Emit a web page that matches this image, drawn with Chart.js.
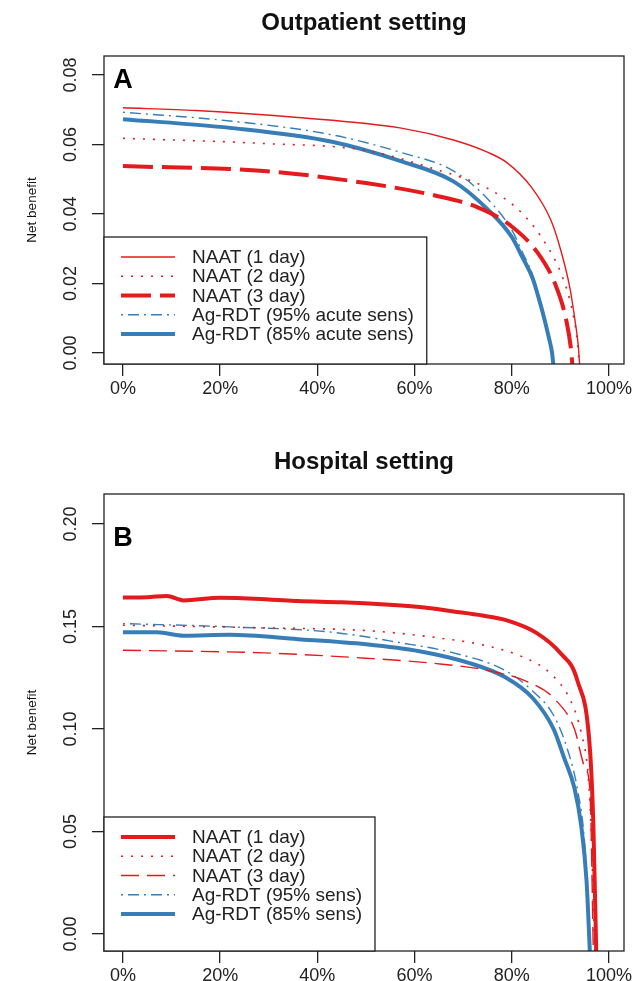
<!DOCTYPE html>
<html>
<head>
<meta charset="utf-8">
<script src="https://cdn.jsdelivr.net/npm/chart.js@4.4.1/dist/chart.umd.min.js"></script>
<style>
  html, body { margin: 0; padding: 0; background: #fff; overflow: hidden; }
  canvas { position: absolute; left: 0; }
  #chartA { top: 0; }
  #chartB { top: 440px; }
</style>
</head>
<body>
<canvas id="chartA" width="636" height="440"></canvas>
<canvas id="chartB" width="636" height="541"></canvas>
<script>
// values: [x (share), net benefit]
var naat1A = [[0,0.0706],[0.15,0.0698],[0.36,0.0678],[0.57,0.0648],[0.68,0.0613],[0.75,0.0578],[0.79,0.0548],[0.84,0.0478],[0.88,0.0384],[0.90,0.0300],[0.92,0.0185],[0.93,0.0095],[0.937,0.0020],[0.940,-0.004]];
var naat2A = [[0,0.0618],[0.29,0.0603],[0.50,0.0583],[0.64,0.0530],[0.75,0.0474],[0.82,0.0404],[0.87,0.0314],[0.905,0.0216],[0.927,0.0106],[0.936,0.0020],[0.939,-0.004]];
var naat3A = [[0,0.0538],[0.29,0.0524],[0.50,0.0489],[0.64,0.0454],[0.73,0.0419],[0.80,0.0364],[0.855,0.0285],[0.89,0.0196],[0.912,0.0095],[0.922,0.0010],[0.925,-0.004]];
var ag95A  = [[0,0.0693],[0.22,0.0668],[0.43,0.0628],[0.57,0.0578],[0.68,0.0524],[0.75,0.0444],[0.80,0.0354],[0.822,0.0290],[0.843,0.0224],[0.854,0.0170],[0.864,0.0118],[0.876,0.0048],[0.882,0.0005],[0.885,-0.004]];
var ag85A  = [[0,0.0673],[0.22,0.0648],[0.43,0.0608],[0.57,0.0553],[0.68,0.0494],[0.75,0.0414],[0.80,0.0334],[0.822,0.0275],[0.843,0.0215],[0.854,0.0165],[0.864,0.0115],[0.876,0.0046],[0.883,0.0000],[0.886,-0.004]];

var naat1B = [[0,0.1641],[0.05,0.1643],[0.09,0.1649],[0.125,0.1627],[0.2,0.1640],[0.3,0.1632],[0.36,0.1624],[0.45,0.1618],[0.54,0.1607],[0.62,0.1592],[0.68,0.1573],[0.74,0.1553],[0.79,0.1530],[0.85,0.1470],[0.90,0.1370],[0.935,0.1236],[0.961,0.0898],[0.968,0.0527],[0.974,-0.01]];
var naat2B = [[0,0.1506],[0.29,0.1493],[0.50,0.1480],[0.64,0.1447],[0.75,0.1405],[0.82,0.1354],[0.88,0.1270],[0.922,0.1134],[0.943,0.0982],[0.957,0.0780],[0.963,0.0527],[0.971,-0.01]];
var naat3B = [[0,0.1384],[0.29,0.1371],[0.50,0.1345],[0.64,0.1320],[0.75,0.1286],[0.836,0.1227],[0.886,0.1151],[0.929,0.1000],[0.950,0.0815],[0.961,0.0696],[0.968,-0.01]];
var ag95B  = [[0,0.1514],[0.22,0.1498],[0.43,0.1472],[0.57,0.1421],[0.68,0.1371],[0.786,0.1286],[0.843,0.1185],[0.886,0.1067],[0.915,0.0898],[0.936,0.0696],[0.950,0.0442],[0.962,-0.01]];
var ag85B  = [[0,0.1472],[0.07,0.1472],[0.125,0.1455],[0.22,0.1459],[0.36,0.1438],[0.50,0.1413],[0.61,0.1379],[0.715,0.1320],[0.786,0.1253],[0.843,0.1151],[0.886,0.1000],[0.907,0.0864],[0.929,0.0712],[0.943,0.0527],[0.954,0.0257],[0.961,-0.01]];

var labelsA = ['NAAT (1 day)', 'NAAT (2 day)', 'NAAT (3 day)', 'Ag-RDT (95% acute sens)', 'Ag-RDT (85% acute sens)'];
var labelsB = ['NAAT (1 day)', 'NAAT (2 day)', 'NAAT (3 day)', 'Ag-RDT (95% sens)', 'Ag-RDT (85% sens)'];
var xTicks  = [0, 0.2, 0.4, 0.6, 0.8, 1.0];
var yTicksA = [0, 0.02, 0.04, 0.06, 0.08];
var yTicksB = [0, 0.05, 0.10, 0.15, 0.20];

var RED = '#E41A1C';
var BLUE = '#377EB8';
var FONT = '"Liberation Sans", Arial, Helvetica, sans-serif';

Chart.defaults.font.family = FONT;
Chart.defaults.color = '#222';

function pts(arr) {
	return arr.map(function (p) { return {x: p[0], y: p[1]}; });
}

function line(label, data, color, width, dash) {
	return {
		label: label,
		data: pts(data),
		borderColor: color,
		backgroundColor: color,
		borderWidth: width,
		borderDash: dash,
		pointRadius: 0,
		fill: false,
		cubicInterpolationMode: 'monotone'
	};
}

// frame, panel letter and the legend box in the lower left corner (like R's legend())
var boxAndLegend = {
	id: 'boxAndLegend',
	afterDatasetsDraw: function (chart, args, opts) {
		var ctx = chart.ctx, a = chart.chartArea;
		ctx.save();
		ctx.setLineDash([]);
		ctx.strokeStyle = '#222';
		ctx.lineWidth = 1.3;
		ctx.strokeRect(a.left, a.top, a.right - a.left, a.bottom - a.top);

		// panel letter
		ctx.font = 'bold 27px ' + FONT;
		ctx.fillStyle = '#000';
		ctx.textAlign = 'center';
		ctx.textBaseline = 'alphabetic';
		ctx.fillText(opts.letter, chart.scales.x.getPixelForValue(0), chart.scales.y.getPixelForValue(opts.letterY));

		// legend
		ctx.font = '19px ' + FONT;
		var maxW = 0;
		chart.data.datasets.forEach(function (ds) {
			maxW = Math.max(maxW, ctx.measureText(ds.label).width);
		});
		var top = a.bottom - opts.height;
		var textX = a.left + 88;
		var right = textX + maxW + 13;
		ctx.fillStyle = '#fff';
		ctx.fillRect(a.left, top, right - a.left, a.bottom - top);
		ctx.strokeRect(a.left, top, right - a.left, a.bottom - top);

		ctx.textAlign = 'left';
		ctx.textBaseline = 'middle';
		chart.data.datasets.forEach(function (ds, i) {
			var y = top + 20 + i * 19.25;
			ctx.strokeStyle = ds.borderColor;
			ctx.lineWidth = ds.borderWidth;
			ctx.setLineDash(ds.borderDash || []);
			ctx.beginPath();
			ctx.moveTo(a.left + 17, y);
			ctx.lineTo(a.left + 71, y);
			ctx.stroke();
			ctx.setLineDash([]);
			ctx.fillStyle = '#222';
			ctx.fillText(ds.label, textX, y + 1);
		});
		ctx.restore();
	}
};

function makeChart(id, cfg) {
	return new Chart(document.getElementById(id), {
		type: 'line',
		data: { datasets: cfg.datasets },
		options: {
			responsive: false,
			animation: false,
			devicePixelRatio: 1,
			layout: { padding: { left: 0, right: 12, top: 0, bottom: 0 } },
			plugins: {
				legend: { display: false },
				tooltip: { enabled: false },
				title: {
					display: true,
					text: cfg.title,
					fullSize: false,
					color: '#111',
					font: { size: 24, weight: 'bold' },
					padding: { top: cfg.titleTop, bottom: cfg.titleBottom }
				},
				boxAndLegend: { letter: cfg.letter, letterY: cfg.letterY, height: cfg.legendHeight }
			},
			scales: {
				x: {
					type: 'linear',
					min: -0.039,
					max: 1.031,
					afterBuildTicks: function (s) { s.ticks = xTicks.map(function (v) { return {value: v}; }); },
					afterFit: function (s) { s.height = cfg.xAxisHeight; },
					ticks: {
						font: { size: 18 },
						padding: 2,
						maxRotation: 0,
						callback: function (v) { return Math.round(v * 100) + '%'; }
					},
					grid: { drawOnChartArea: false, drawTicks: true, tickLength: 12, color: '#222', lineWidth: 1.3 },
					border: { display: false }
				},
				y: {
					type: 'linear',
					min: cfg.yMin,
					max: cfg.yMax,
					afterBuildTicks: function (s) { s.ticks = cfg.yTicks.map(function (v) { return {value: v}; }); },
					afterFit: function (s) { s.width = 104; },
					ticks: {
						font: { size: 18 },
						padding: 3,
						minRotation: 90,
						maxRotation: 90,
						crossAlign: 'center',
						callback: function (v) { return v.toFixed(2); }
					},
					title: {
						display: true,
						text: 'Net benefit',
						color: '#111',
						font: { size: 13.5 },
						padding: { top: 24, bottom: 0 }
					},
					grid: { drawOnChartArea: false, drawTicks: true, tickLength: 12, color: '#222', lineWidth: 1.3 },
					border: { display: false }
				}
			}
		},
		plugins: [boxAndLegend]
	});
}

makeChart('chartA', {
	title: 'Outpatient setting',
	titleTop: 9, titleBottom: 18.2,
	letter: 'A', letterY: 0.0763,
	legendHeight: 127,
	xAxisHeight: 76,
	yMin: -0.0032, yMax: 0.0855,
	yTicks: yTicksA,
	datasets: [
		line(labelsA[0], naat1A, RED, 1.4, []),
		line(labelsA[1], naat2A, RED, 1.6, [2, 8]),
		line(labelsA[2], naat3A, RED, 4, [30, 9]),
		line(labelsA[3], ag95A, BLUE, 1.4, [2, 5, 11, 5]),
		line(labelsA[4], ag85A, BLUE, 4, [])
	]
});

makeChart('chartB', {
	title: 'Hospital setting',
	titleTop: 8, titleBottom: 17.2,
	letter: 'B', letterY: 0.1893,
	legendHeight: 134,
	xAxisHeight: 30,
	yMin: -0.0083, yMax: 0.2146,
	yTicks: yTicksB,
	datasets: [
		line(labelsB[0], naat1B, RED, 4, []),
		line(labelsB[1], naat2B, RED, 1.6, [2, 8]),
		line(labelsB[2], naat3B, RED, 1.4, [18, 8]),
		line(labelsB[3], ag95B, BLUE, 1.4, [2, 5, 11, 5]),
		line(labelsB[4], ag85B, BLUE, 4, [])
	]
});
</script>
</body>
</html>
